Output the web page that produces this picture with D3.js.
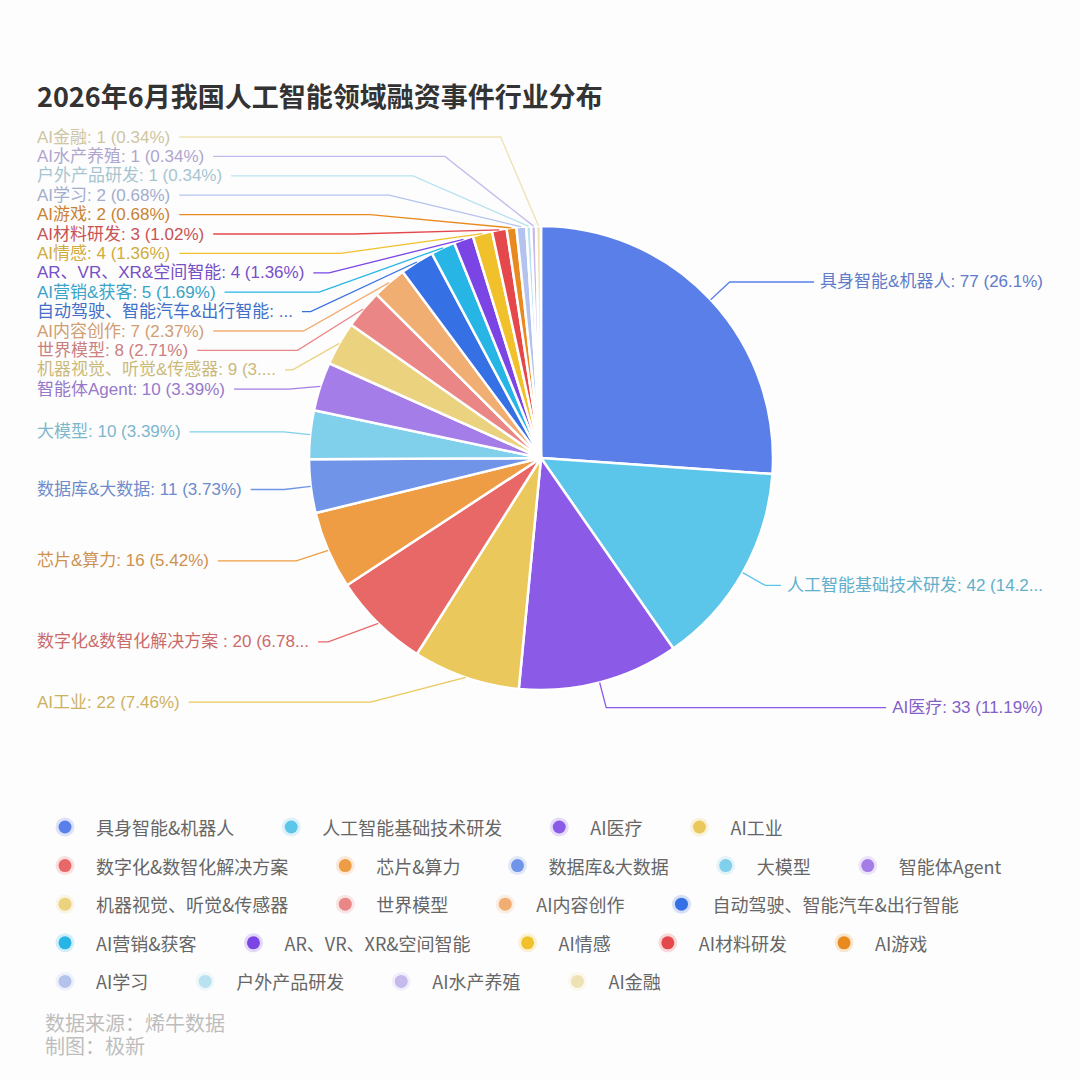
<!DOCTYPE html>
<html>
<head>
<meta charset="utf-8">
<script src="https://cdn.jsdelivr.net/npm/d3@7/dist/d3.min.js"></script>
<style>
html,body{margin:0;padding:0;background:#fdfdfd;}
svg{display:block;}
</style>
</head>
<body>
<svg id="chart" width="1080" height="1080"></svg>
<script>
// ---------------- data ----------------
const title = "2026年6月我国人工智能领域融资事件行业分布";
const categories = [
  "具身智能&机器人", "人工智能基础技术研发", "AI医疗", "AI工业",
  "数字化&数智化解决方案 ", "芯片&算力", "数据库&大数据", "大模型", "智能体Agent",
  "机器视觉、听觉&传感器", "世界模型", "AI内容创作", "自动驾驶、智能汽车&出行智能",
  "AI营销&获客", "AR、VR、XR&空间智能", "AI情感", "AI材料研发", "AI游戏",
  "AI学习", "户外产品研发", "AI水产养殖", "AI金融"
];
const values = [77, 42, 33, 22, 20, 16, 11, 10, 10, 9, 8, 7, 7, 5, 4, 4, 3, 2, 2, 1, 1, 1];
const colors = [
  "#5a7fe9", "#5cc5ea", "#8b5ae7", "#ebc85b",
  "#e86868", "#ee9d44", "#6f94e8", "#80cfeb", "#a57de8",
  "#ead27f", "#ea8686", "#f1ae72", "#3570e5",
  "#27b5e6", "#7b45e5", "#f1c12b", "#e4484b", "#e98a1f",
  "#b4c3ee", "#b8e2f0", "#c5b9ee", "#eee2b5"
];
const sourceLines = ["数据来源：烯牛数据", "制图：极新"];

// ---------------- layout ----------------
const W = 1080, H = 1080;
const cx = 541, cy = 458, R = 232, len1 = 26;
const FONT = '"Noto Sans CJK SC","Noto Sans","DejaVu Sans",sans-serif';
const LABEL_FONT = '"Liberation Sans","Noto Sans CJK SC",sans-serif';
const labelSize = 17, lineH = 19.4, labelMinY = 137, leftEdge = 37, rightEdge = 1043;

const svg = d3.select("#chart");
svg.append("rect").attr("width", W).attr("height", H).attr("fill", "#fdfdfd");

// title
svg.append("text")
  .attr("x", 37).attr("y", 95)
  .attr("dominant-baseline", "central")
  .attr("font-family", FONT).attr("font-size", 27).attr("font-weight", 700)
  .attr("fill", "#333")
  .text(title);

const total = d3.sum(values);
const fmtPct = v => (v / total * 100).toFixed(2).replace(/\.?0+$/, "");

const data = categories.map((c, i) => ({ name: c, value: values[i], color: colors[i] }));
const arcs = d3.pie().sort(null).value(d => d.value)(data);
const arc = d3.arc().innerRadius(0).outerRadius(R);

const g = svg.append("g").attr("transform", `translate(${cx},${cy})`);
g.selectAll("path").data(arcs).join("path")
  .attr("d", arc)
  .attr("fill", d => d.data.color)
  .attr("stroke", "#fff")
  .attr("stroke-width", 2.5)
  .attr("stroke-linejoin", "round");

// measurement helper
const measurer = svg.append("text").attr("visibility", "hidden");
function textW(s, size, fam) {
  measurer.attr("font-size", size).attr("font-family", fam).text(s);
  return measurer.node().getComputedTextLength();
}
function truncate(s, maxW, size, fam) {
  if (textW(s, size, fam) <= maxW) return s;
  let t = s;
  while (t.length > 0 && textW(t + "...", size, fam) > maxW) t = t.slice(0, -1);
  return t + "...";
}

// label items
const items = arcs.map(a => {
  const mid = (a.startAngle + a.endAngle) / 2;
  const nx = Math.sin(mid), ny = -Math.cos(mid);
  return {
    a, nx, ny, dir: nx < 0 ? -1 : 1,
    sx: cx + R * nx, sy: cy + R * ny,
    y0: cy + (R + len1) * ny,
    bx0: cx + (R + len1) * nx,
    text: `${a.data.name}: ${a.data.value} (${fmtPct(a.data.value)}%)`,
    color: a.data.color
  };
});

// least-squares spreading with minimum spacing (pool adjacent violators), bounded on top
function spread(list) {
  list.sort((p, q) => p.y0 - q.y0);
  const z = list.map((d, i) => d.y0 - i * lineH);
  const blocks = [];
  z.forEach(v => {
    blocks.push({ sum: v, count: 1 });
    while (blocks.length > 1) {
      const b1 = blocks[blocks.length - 2], b2 = blocks[blocks.length - 1];
      if (b1.sum / b1.count > b2.sum / b2.count) {
        blocks.pop();
        b1.sum += b2.sum; b1.count += b2.count;
      } else break;
    }
  });
  let k = 0;
  blocks.forEach(b => {
    const m = Math.max(b.sum / b.count, labelMinY);
    for (let j = 0; j < b.count; j++) { list[k].y = m + k * lineH; k++; }
  });
}

const leftList = items.filter(d => d.dir < 0);
const rightList = items.filter(d => d.dir > 0);
[leftList, rightList].forEach(list => {
  spread(list);
  const moved = list.some(d => Math.abs(d.y - d.y0) > 0.5);
  const rA = R + len1;
  const rB = d3.max(list, d => Math.abs(d.y - cy)) + 4;
  list.forEach(d => {
    if (moved) {
      const dy = Math.abs(d.y - cy);
      d.bx = cx + d.dir * rA * Math.sqrt(Math.max(0, 1 - (dy * dy) / (rB * rB)));
    } else {
      d.y = d.y0; d.bx = d.bx0;
    }
  });
});

// draw label lines and texts
const lg = svg.append("g");
items.forEach(d => {
  let avail, tx, anchor, lineEnd;
  if (d.dir < 0) {
    avail = d.bx - 16 - leftEdge;
    d.label = truncate(d.text, avail, labelSize, LABEL_FONT);
    const tw = textW(d.label, labelSize, LABEL_FONT);
    tx = leftEdge; anchor = "start"; lineEnd = leftEdge + tw + 9;
  } else {
    avail = rightEdge - (d.bx + 16);
    d.label = truncate(d.text, avail, labelSize, LABEL_FONT);
    const tw = textW(d.label, labelSize, LABEL_FONT);
    tx = rightEdge; anchor = "end"; lineEnd = rightEdge - tw - 6;
  }
  lg.append("path")
    .attr("d", d3.line()([[d.sx, d.sy], [d.bx, d.y], [lineEnd, d.y]]))
    .attr("fill", "none")
    .attr("stroke", d.color)
    .attr("stroke-width", 1.3);
  lg.append("text")
    .attr("x", tx).attr("y", d.y)
    .attr("text-anchor", anchor)
    .attr("dominant-baseline", "central")
    .attr("font-family", LABEL_FONT).attr("font-size", labelSize)
    .attr("fill", d3.interpolateRgb(d.color, "#6e6e6e")(0.25))
    .text(d.label);
});

// legend
const legendTop = 827, legendRowH = 38.6, legendX0 = 65, legendMaxX = 1045, legendSize = 18;
const legend = svg.append("g");
let lx = legendX0, row = 0;
data.forEach(d => {
  const tw = textW(d.name, legendSize, FONT);
  if (lx !== legendX0 && lx + 31 + tw > legendMaxX) { row++; lx = legendX0; }
  const ly = legendTop + row * legendRowH;
  legend.append("circle").attr("cx", lx).attr("cy", ly).attr("r", 9.5)
    .attr("fill", d.color).attr("fill-opacity", 0.2);
  legend.append("circle").attr("cx", lx).attr("cy", ly).attr("r", 6.5)
    .attr("fill", d.color);
  legend.append("text")
    .attr("x", lx + 31).attr("y", ly)
    .attr("dominant-baseline", "central")
    .attr("font-family", FONT).attr("font-size", legendSize)
    .attr("fill", "#666")
    .text(d.name);
  lx = lx + 31 + tw + 57;
});

// source
sourceLines.forEach((s, i) => {
  svg.append("text")
    .attr("x", 45).attr("y", 1024 + i * 23)
    .attr("dominant-baseline", "central")
    .attr("font-family", LABEL_FONT).attr("font-size", 20)
    .attr("fill", "#bdbdbd")
    .text(s);
});
measurer.remove();
</script>
</body>
</html>
